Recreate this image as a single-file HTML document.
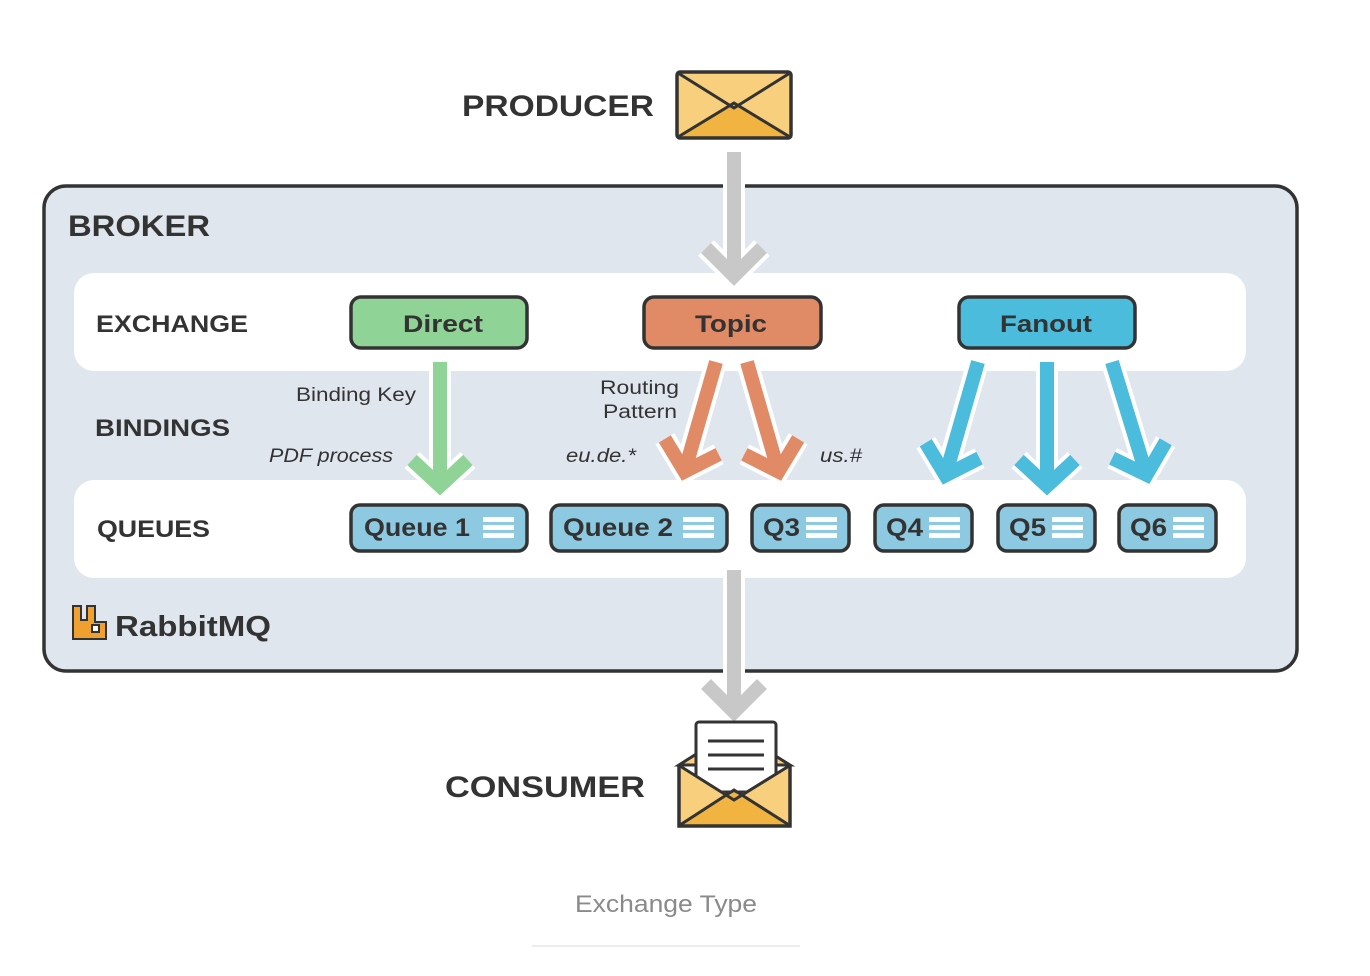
<!DOCTYPE html>
<html><head><meta charset="utf-8"><style>
html,body{margin:0;padding:0;background:#fff;width:1370px;height:976px;overflow:hidden}
svg{display:block}
.h{font-family:"Liberation Sans",sans-serif;font-weight:bold;fill:#333}
.n{font-family:"Liberation Sans",sans-serif;fill:#333}
</style></head><body>
<svg width="1370" height="976" viewBox="0 0 1370 976" xmlns="http://www.w3.org/2000/svg">
<rect x="44" y="186" width="1253" height="485" rx="22" fill="#dfe6ee" stroke="#333" stroke-width="3.5"/>
<rect x="74" y="273" width="1172" height="98" rx="20" fill="#fff"/>
<rect x="74" y="480" width="1172" height="98" rx="20" fill="#fff"/>

<text x="462" y="116" class="h" font-size="30" textLength="192" lengthAdjust="spacingAndGlyphs">PRODUCER</text>
<text x="68" y="236" class="h" font-size="30" textLength="142" lengthAdjust="spacingAndGlyphs">BROKER</text>
<text x="96" y="332" class="h" font-size="24" textLength="152" lengthAdjust="spacingAndGlyphs">EXCHANGE</text>
<text x="95" y="436" class="h" font-size="24" textLength="135" lengthAdjust="spacingAndGlyphs">BINDINGS</text>
<text x="97" y="537" class="h" font-size="24" textLength="113" lengthAdjust="spacingAndGlyphs">QUEUES</text>
<text x="445" y="797" class="h" font-size="30" textLength="200" lengthAdjust="spacingAndGlyphs">CONSUMER</text>

<text x="296" y="401" class="n" font-size="19" textLength="120" lengthAdjust="spacingAndGlyphs">Binding Key</text>
<text x="269" y="462" class="n" font-size="19" font-style="italic" textLength="124" lengthAdjust="spacingAndGlyphs">PDF process</text>
<text x="600" y="394" class="n" font-size="19" textLength="79" lengthAdjust="spacingAndGlyphs">Routing</text>
<text x="603" y="418" class="n" font-size="19" textLength="74" lengthAdjust="spacingAndGlyphs">Pattern</text>
<text x="566" y="462" class="n" font-size="19" font-style="italic" textLength="70" lengthAdjust="spacingAndGlyphs">eu.de.*</text>
<text x="820" y="462" class="n" font-size="19" font-style="italic" textLength="42" lengthAdjust="spacingAndGlyphs">us.#</text>

<!-- gray arrows -->
<g fill="none" stroke-linejoin="miter">
 <g stroke="#fff" stroke-width="22"><polyline points="734,152 734,275"/><polyline points="706,248 734,276 762,248"/></g>
 <g stroke="#c8c8c8" stroke-width="14"><polyline points="734,152 734,275"/><polyline points="706,248 734,276 762,248"/></g>
 <g stroke="#fff" stroke-width="22"><polyline points="734,570 734,710"/><polyline points="706,684 734,712 762,684"/></g>
 <g stroke="#c8c8c8" stroke-width="14"><polyline points="734,570 734,710"/><polyline points="706,684 734,712 762,684"/></g>
</g>

<!-- colored arrows -->
<g fill="none" stroke-linejoin="miter">
 <g transform="translate(440,362)">
  <g stroke="#fff" stroke-width="22"><line x1="0" y1="0" x2="0" y2="122"/><polyline points="-28,98 0,124 28,98"/></g>
  <g stroke="#8fd496" stroke-width="14"><line x1="0" y1="0" x2="0" y2="122"/><polyline points="-28,98 0,124 28,98"/></g>
 </g>
 <g transform="translate(716,362) rotate(16)">
  <g stroke="#fff" stroke-width="22"><line x1="0" y1="0" x2="0" y2="112"/><polyline points="-28,88 0,114 28,88"/></g>
  <g stroke="#e08a66" stroke-width="14"><line x1="0" y1="0" x2="0" y2="112"/><polyline points="-28,88 0,114 28,88"/></g>
 </g>
 <g transform="translate(747,362) rotate(-16)">
  <g stroke="#fff" stroke-width="22"><line x1="0" y1="0" x2="0" y2="112"/><polyline points="-28,88 0,114 28,88"/></g>
  <g stroke="#e08a66" stroke-width="14"><line x1="0" y1="0" x2="0" y2="112"/><polyline points="-28,88 0,114 28,88"/></g>
 </g>
 <g transform="translate(978,362) rotate(16)">
  <g stroke="#fff" stroke-width="22"><line x1="0" y1="0" x2="0" y2="116"/><polyline points="-28,92 0,118 28,92"/></g>
  <g stroke="#4bbcdc" stroke-width="14"><line x1="0" y1="0" x2="0" y2="116"/><polyline points="-28,92 0,118 28,92"/></g>
 </g>
 <g transform="translate(1047,362)">
  <g stroke="#fff" stroke-width="22"><line x1="0" y1="0" x2="0" y2="122"/><polyline points="-28,98 0,124 28,98"/></g>
  <g stroke="#4bbcdc" stroke-width="14"><line x1="0" y1="0" x2="0" y2="122"/><polyline points="-28,98 0,124 28,98"/></g>
 </g>
 <g transform="translate(1112,362) rotate(-17)">
  <g stroke="#fff" stroke-width="22"><line x1="0" y1="0" x2="0" y2="116"/><polyline points="-28,92 0,118 28,92"/></g>
  <g stroke="#4bbcdc" stroke-width="14"><line x1="0" y1="0" x2="0" y2="116"/><polyline points="-28,92 0,118 28,92"/></g>
 </g>
</g>

<!-- exchanges -->
<g stroke="#333" stroke-width="3.5">
 <rect x="351" y="297" width="176" height="51" rx="10" fill="#8fd496"/>
 <rect x="644" y="297" width="177" height="51" rx="10" fill="#e08a66"/>
 <rect x="959" y="297" width="176" height="51" rx="10" fill="#4bbcdc"/>
</g>
<text x="403" y="332" class="h" font-size="24" textLength="80" lengthAdjust="spacingAndGlyphs">Direct</text>
<text x="695" y="332" class="h" font-size="24" textLength="72" lengthAdjust="spacingAndGlyphs">Topic</text>
<text x="1000" y="332" class="h" font-size="24" textLength="92" lengthAdjust="spacingAndGlyphs">Fanout</text>

<!-- queues -->
<g stroke="#333" stroke-width="3.5" fill="#8ec9e2">
 <rect x="351" y="505" width="176" height="46" rx="9"/>
 <rect x="551" y="505" width="176" height="46" rx="9"/>
 <rect x="752" y="505" width="97" height="46" rx="9"/>
 <rect x="875" y="505" width="97" height="46" rx="9"/>
 <rect x="998" y="505" width="97" height="46" rx="9"/>
 <rect x="1119" y="505" width="97" height="46" rx="9"/>
</g>
<g class="h" font-size="25">
 <text x="364" y="536" textLength="106" lengthAdjust="spacingAndGlyphs">Queue 1</text>
 <text x="563" y="536" textLength="110" lengthAdjust="spacingAndGlyphs">Queue 2</text>
 <text x="763" y="536" textLength="37" lengthAdjust="spacingAndGlyphs">Q3</text>
 <text x="886" y="536" textLength="37" lengthAdjust="spacingAndGlyphs">Q4</text>
 <text x="1009" y="536" textLength="37" lengthAdjust="spacingAndGlyphs">Q5</text>
 <text x="1130" y="536" textLength="37" lengthAdjust="spacingAndGlyphs">Q6</text>
</g>
<g fill="#fff">
 <rect x="483" y="517" width="31" height="5"/><rect x="483" y="525" width="31" height="5"/><rect x="483" y="533" width="31" height="5"/>
 <rect x="683" y="517" width="31" height="5"/><rect x="683" y="525" width="31" height="5"/><rect x="683" y="533" width="31" height="5"/>
 <rect x="806" y="517" width="31" height="5"/><rect x="806" y="525" width="31" height="5"/><rect x="806" y="533" width="31" height="5"/>
 <rect x="929" y="517" width="31" height="5"/><rect x="929" y="525" width="31" height="5"/><rect x="929" y="533" width="31" height="5"/>
 <rect x="1052" y="517" width="31" height="5"/><rect x="1052" y="525" width="31" height="5"/><rect x="1052" y="533" width="31" height="5"/>
 <rect x="1173" y="517" width="31" height="5"/><rect x="1173" y="525" width="31" height="5"/><rect x="1173" y="533" width="31" height="5"/>
</g>

<!-- rabbitmq logo -->
<path d="M73,606 h8 v14 h6 v-14 h8 v16 h11 v17 h-33 z" fill="#f0a030" stroke="#333" stroke-width="2"/>
<rect x="92" y="625" width="7" height="7" fill="#fff" stroke="#333" stroke-width="2"/>
<text x="115" y="636" class="h" font-size="29" textLength="156" lengthAdjust="spacingAndGlyphs">RabbitMQ</text>

<!-- producer envelope -->
<rect x="677" y="72" width="114" height="66" rx="3" fill="#f8cf7c"/>
<polygon points="677,138 734,104 791,138" fill="#f2b440"/>
<rect x="677" y="72" width="114" height="66" rx="3" fill="none" stroke="#333" stroke-width="3.5"/>
<polyline points="678,73 734,108 790,73" fill="none" stroke="#333" stroke-width="3"/>
<polyline points="678,137 734,103 790,137" fill="none" stroke="#333" stroke-width="3"/>

<!-- consumer envelope -->
<polygon points="679,765 734,730 790,765" fill="#f8cf7c" stroke="#333" stroke-width="3"/>
<rect x="696" y="722" width="80" height="70" rx="3" fill="#fff" stroke="#333" stroke-width="3"/>
<line x1="708" y1="741" x2="764" y2="741" stroke="#333" stroke-width="3"/>
<line x1="708" y1="755" x2="764" y2="755" stroke="#333" stroke-width="3"/>
<line x1="708" y1="769" x2="764" y2="769" stroke="#333" stroke-width="3"/>
<path d="M679,765 L734,798 L790,765 V826 H679 Z" fill="#f8cf7c"/>
<polygon points="679,826 734,792 790,826" fill="#f2b440"/>
<path d="M679,765 V826 H790 V765" fill="none" stroke="#333" stroke-width="3.5"/>
<polyline points="680,766 734,800 789,766" fill="none" stroke="#333" stroke-width="3"/>
<polyline points="680,825 734,790 789,825" fill="none" stroke="#333" stroke-width="3"/>

<text x="575" y="912" font-family="Liberation Sans, sans-serif" font-size="24" fill="#8a8a8a" textLength="182" lengthAdjust="spacingAndGlyphs">Exchange Type</text>
<line x1="532" y1="946" x2="800" y2="946" stroke="#ececec" stroke-width="2"/>
</svg>
</body></html>
